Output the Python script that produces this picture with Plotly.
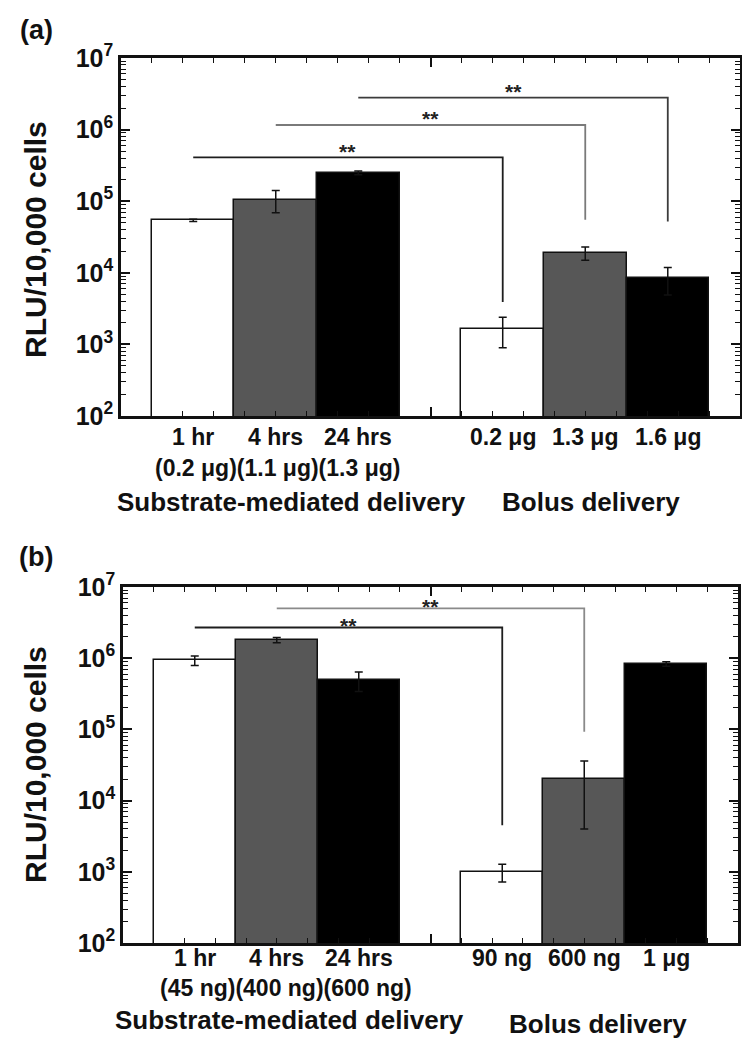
import math
import plotly.graph_objects as go

# ---- data ----
sub_labels_a = ["1 hr", "4 hrs", "24 hrs"]
sub_doses_a = ["(0.2 μg)", "(1.1 μg)", "(1.3 μg)"]
bolus_labels_a = ["0.2 μg", "1.3 μg", "1.6 μg"]
values_a = [5.4e4, 1.05e5, 2.5e5, 1.65e3, 1.9e4, 8.4e3]
errors_a = [2.0e3, 3.6e4, 1.5e4, 7.5e2, 4.0e3, 3.5e3]
# significance brackets: (from bar, to bar, bracket level, end of drop)
brackets_a = [(0, 3, 4.1e5, 3.9e3), (1, 4, 1.16e6, 5.5e4), (2, 5, 2.8e6, 5.2e4)]

sub_labels_b = ["1 hr", "4 hrs", "24 hrs"]
sub_doses_b = ["(45 ng)", "(400 ng)", "(600 ng)"]
bolus_labels_b = ["90 ng", "600 ng", "1 μg"]
values_b = [9.3e5, 1.8e6, 4.9e5, 1.0e3, 2.0e4, 8.3e5]
errors_b = [1.4e5, 1.5e5, 1.5e5, 2.8e2, 1.6e4, 6.0e4]
brackets_b = [(0, 3, 2.7e6, 4.5e3), (1, 4, 5.0e6, 9.3e4)]

# the page body keeps its default 8px margin, so the figure is drawn 8px in
OFF = 8
W, H = 750 - OFF, 1045 - OFF
FONT = "Liberation Sans, Arial, sans-serif"
bar_colors = ["#ffffff", "#575757", "#000000"] * 2
bracket_colors_a = ["#1e1e1e", "#7a7a7a", "#3c3c3c"]
bracket_colors_b = ["#1e1e1e", "#8a8a8a"]

bw = 8 / 3
centers = [5 - bw, 5, 5 + bw, 15 - bw, 15, 15 + bw]


def px(x):
    return (x - OFF) / W


def py(y):
    return 1 - (y - OFF) / H


fig = go.Figure()


def add_panel(n, values, errors, brackets, bcolors, star_shift):
    xa, ya = ("x", "y") if n == 1 else ("x2", "y2")
    fig.add_trace(go.Bar(
        x=centers, y=values, width=bw,
        marker=dict(color=bar_colors, line=dict(color="#111", width=1.5)),
        error_y=dict(type="data", array=errors, visible=True,
                     color="#111", thickness=1.5, width=4),
        xaxis=xa, yaxis=ya, showlegend=False,
    ))
    for (i, j, lvl, drop), c in zip(brackets, bcolors):
        fig.add_trace(go.Scatter(
            x=[centers[i], centers[j], centers[j]], y=[lvl, lvl, drop],
            mode="lines", line=dict(color=c, width=1.8),
            xaxis=xa, yaxis=ya, showlegend=False, hoverinfo="skip",
        ))
        # annotations on a log axis take log10 positions
        fig.add_annotation(x=(centers[i] + centers[j]) / 2, y=math.log10(lvl),
                           xref=xa, yref=ya, text="**", showarrow=False,
                           yshift=star_shift,
                           font=dict(family=FONT, size=21, color="#222",
                                     weight="bold"))


add_panel(1, values_a, errors_a, brackets_a, bracket_colors_a, 6)
add_panel(2, values_b, errors_b, brackets_b, bracket_colors_b, 2)

major = [10 ** k for k in range(2, 8)]
minor = [m * 10 ** k for k in range(2, 7) for m in range(2, 10)]
yax = dict(
    type="log", range=[2, 7], tickmode="array", tickvals=major,
    ticktext=[f"10<sup>{k}</sup>" for k in range(2, 8)],
    ticks="inside", ticklen=9, tickwidth=1.5, tickcolor="#111",
    minor=dict(tickmode="array", tickvals=minor, ticks="inside", ticklen=5,
               tickwidth=1.2, tickcolor="#111"),
    showline=True, linewidth=2.5, linecolor="#111", mirror="ticks",
    showgrid=False, zeroline=False, automargin=False,
    tickfont=dict(family=FONT, size=25, color="#111", weight="bold"),
)
xax = dict(
    range=[0, 20], tickmode="array", tickvals=[0, 10, 20], showticklabels=False,
    ticks="inside", ticklen=9, tickwidth=1.5, tickcolor="#111",
    minor=dict(tickmode="array", tickvals=list(range(1, 20)), ticks="inside",
               ticklen=5, tickwidth=1.2, tickcolor="#111"),
    showline=True, linewidth=2.5, linecolor="#111", mirror="ticks",
    showgrid=False, zeroline=False, automargin=False,
)

fig.update_layout(
    width=W, height=H, margin=dict(l=0, r=0, t=0, b=0, autoexpand=False),
    paper_bgcolor="white", plot_bgcolor="white", bargap=0,
    xaxis=dict(xax, domain=[px(121), px(740)], anchor="y"),
    yaxis=dict(yax, domain=[py(416), py(58)], anchor="x"),
    xaxis2=dict(xax, domain=[px(123), px(738)], anchor="y2"),
    yaxis2=dict(yax, domain=[py(943), py(587)], anchor="x2"),
)


def label(x, y, text, size, xref="paper", angle=0):
    fig.add_annotation(x=x, y=py(y), xref=xref, yref="paper", text=text,
                       showarrow=False, xanchor="center", yanchor="middle",
                       textangle=angle,
                       font=dict(family=FONT, size=size, color="#111", weight="bold"))


# panel (a) text
label(px(36), 30, "(a)", 27)
label(px(35), 240, "RLU/10,000 cells", 30, angle=-90)
for c, t in zip(centers, sub_labels_a + bolus_labels_a):
    label(c, 437, t, 23, xref="x")
label(px(277), 468, "".join(sub_doses_a), 23)
label(px(291), 502, "Substrate-mediated delivery", 26)
label(px(591), 502, "Bolus delivery", 26)

# panel (b) text
label(px(36), 557, "(b)", 27)
label(px(35), 765, "RLU/10,000 cells", 30, angle=-90)
for c, t in zip(centers, sub_labels_b + bolus_labels_b):
    label(c, 958, t, 23, xref="x2")
label(px(286), 988, "".join(sub_doses_b), 23)
label(px(289), 1020, "Substrate-mediated delivery", 26)
label(px(598), 1024, "Bolus delivery", 26)

fig.write_html("out.html")
